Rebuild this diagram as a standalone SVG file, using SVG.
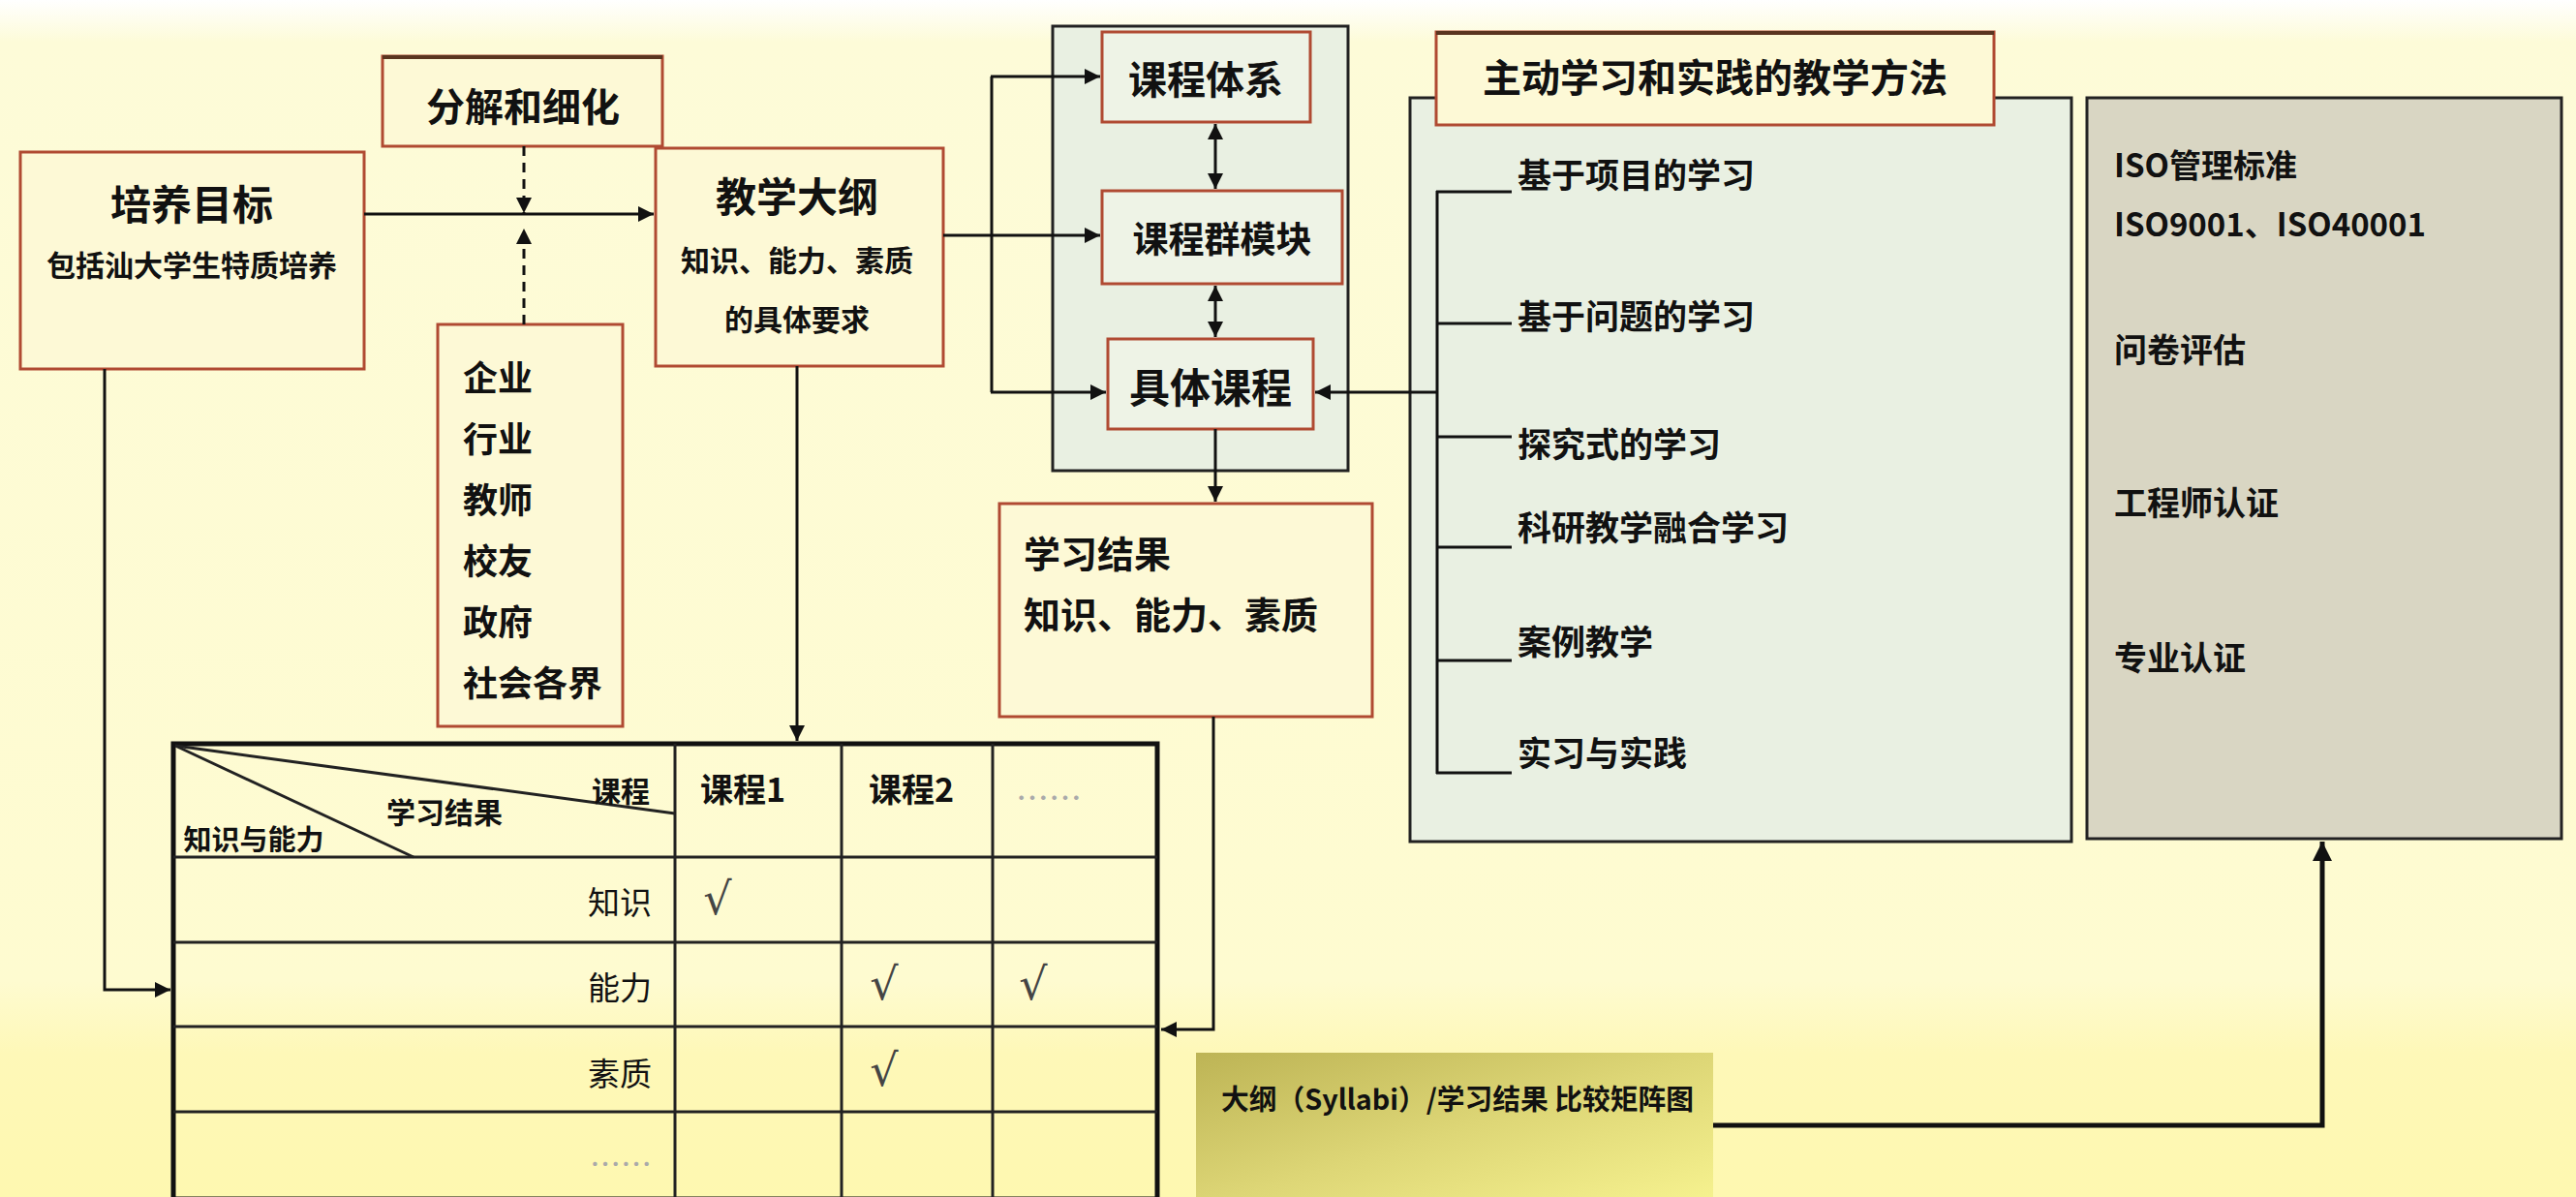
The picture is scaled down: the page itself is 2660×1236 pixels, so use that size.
<svg xmlns="http://www.w3.org/2000/svg" width="2660" height="1236" viewBox="0 0 2660 1236">
<defs>
<linearGradient id="bg" x1="0" y1="0" x2="0" y2="1">
<stop offset="0" stop-color="#ffffff"/>
<stop offset="0.035" stop-color="#fdfbd8"/>
<stop offset="0.82" stop-color="#fefbd0"/>
<stop offset="0.88" stop-color="#fef8b8"/>
<stop offset="1" stop-color="#fef8b0"/>
</linearGradient>
<linearGradient id="syl" x1="0" y1="0" x2="1" y2="1">
<stop offset="0" stop-color="#bdb455"/>
<stop offset="0.5" stop-color="#ddd676"/>
<stop offset="1" stop-color="#f7f390"/>
</linearGradient>
<marker id="ah" viewBox="0 0 10 10" refX="10" refY="5" markerWidth="18" markerHeight="16" markerUnits="userSpaceOnUse" orient="auto-start-reverse">
<path d="M0,0 L10,5 L0,10 z" fill="#111"/>
</marker>
<marker id="ahb" viewBox="0 0 10 10" refX="10" refY="5" markerWidth="22" markerHeight="20" markerUnits="userSpaceOnUse" orient="auto-start-reverse">
<path d="M0,0 L10,5 L0,10 z" fill="#111"/>
</marker>
</defs>
<style>
text{font-family:'Noto Sans CJK SC','Noto Sans',sans-serif;fill:#111;dominant-baseline:central}
.b{font-weight:bold}
.box{fill:#fdf9d6;stroke:#b04a32;stroke-width:3}
.gbox{fill:#eef3e6;stroke:#b04a32;stroke-width:3}
.c{text-anchor:middle}
.e{text-anchor:end}
.ln{fill:none;stroke:#111;stroke-width:3}
.tl{fill:none;stroke:#222;stroke-width:3}
.dots{fill:#aaa;font-weight:normal}
.chk{font-family:'DejaVu Sans',sans-serif;fill:#444;font-size:46px;font-weight:normal}
</style>
<rect x="0" y="0" width="2660" height="1236" fill="url(#bg)"/>

<g id="panel-course">
<rect x="1087" y="27" width="305" height="459" fill="#e9f0e2" stroke="#222" stroke-width="3"/>
</g>
<g id="panel-methods">
<rect x="1456" y="101" width="683" height="768" fill="#e9f0e2" stroke="#222" stroke-width="3"/>
</g>
<g id="panel-iso">
<rect x="2155" y="101" width="490" height="765" fill="#d9d6c3" stroke="#222" stroke-width="3"/>
<text class="b" x="2183" y="169" font-size="33">ISO管理标准</text>
<text class="b" x="2183" y="230" font-size="33">ISO9001、ISO40001</text>
<text class="b" x="2183" y="359" font-size="34">问卷评估</text>
<text class="b" x="2183" y="517" font-size="34">工程师认证</text>
<text class="b" x="2183" y="677" font-size="34">专业认证</text>
</g>

<g id="node-fenjie">
<rect class="box" x="395" y="58" width="289" height="93"/>
<line x1="395" y1="59" x2="684" y2="59" stroke="#5a3520" stroke-width="4"/>
<text class="b c" x="540" y="108" font-size="40">分解和细化</text>
</g>
<g id="node-peiyang">
<rect class="box" x="21" y="157" width="355" height="224"/>
<text class="b c" x="198" y="208" font-size="42">培养目标</text>
<text class="b c" x="198" y="272" font-size="30">包括汕大学生特质培养</text>
</g>
<g id="node-dagang">
<rect class="box" x="677" y="153" width="297" height="225"/>
<text class="b c" x="823" y="200" font-size="42">教学大纲</text>
<text class="b c" x="823" y="267" font-size="30">知识、能力、素质</text>
<text class="b c" x="823" y="328" font-size="30">的具体要求</text>
</g>
<g id="node-stakeholders">
<rect class="box" x="452" y="335" width="191" height="415"/>
<text class="b" x="478" y="388" font-size="36">企业</text>
<text class="b" x="478" y="451" font-size="36">行业</text>
<text class="b" x="478" y="514" font-size="36">教师</text>
<text class="b" x="478" y="577" font-size="36">校友</text>
<text class="b" x="478" y="640" font-size="36">政府</text>
<text class="b" x="478" y="703" font-size="36">社会各界</text>
</g>
<g id="node-kechengtixi">
<rect class="gbox" x="1138" y="33" width="215" height="93"/>
<text class="b c" x="1245" y="80" font-size="40">课程体系</text>
</g>
<g id="node-kechengqun">
<rect class="gbox" x="1138" y="197" width="248" height="96"/>
<text class="b c" x="1262" y="245" font-size="37">课程群模块</text>
</g>
<g id="node-jutikecheng">
<rect class="gbox" x="1144" y="350" width="212" height="93"/>
<text class="b c" x="1250" y="397" font-size="42">具体课程</text>
</g>
<g id="node-xuexijieguo">
<rect class="box" x="1032" y="520" width="385" height="220"/>
<text class="b" x="1057" y="569" font-size="38">学习结果</text>
<text class="b" x="1057" y="632" font-size="38">知识、能力、素质</text>
</g>
<g id="node-methods-title">
<rect class="box" x="1483" y="33" width="576" height="96"/>
<line x1="1483" y1="34" x2="2059" y2="34" stroke="#5a3520" stroke-width="4"/>
<text class="b c" x="1771" y="78" font-size="40">主动学习和实践的教学方法</text>
</g>
<g id="node-methods">
<text class="b" x="1567" y="178" font-size="35">基于项目的学习</text>
<text class="b" x="1567" y="324" font-size="35">基于问题的学习</text>
<text class="b" x="1567" y="456" font-size="35">探究式的学习</text>
<text class="b" x="1567" y="542" font-size="35">科研教学融合学习</text>
<text class="b" x="1567" y="660" font-size="35">案例教学</text>
<text class="b" x="1567" y="775" font-size="35">实习与实践</text>
</g>
<g id="node-syllabi">
<rect x="1235" y="1087" width="534" height="160" fill="url(#syl)"/>
<text class="b" x="1261" y="1133" font-size="29" textLength="488" lengthAdjust="spacingAndGlyphs">大纲（Syllabi）/学习结果 比较矩阵图</text>
</g>

<g id="node-matrix">
<rect x="179" y="768" width="1016" height="470" fill="none" stroke="#111" stroke-width="5"/>
<line class="tl" x1="179" y1="885" x2="1195" y2="885"/>
<line class="tl" x1="179" y1="973" x2="1195" y2="973"/>
<line class="tl" x1="179" y1="1060" x2="1195" y2="1060"/>
<line class="tl" x1="179" y1="1148" x2="1195" y2="1148"/>
<line class="tl" x1="697" y1="768" x2="697" y2="1236"/>
<line class="tl" x1="869" y1="768" x2="869" y2="1236"/>
<line class="tl" x1="1025" y1="768" x2="1025" y2="1236"/>
<line class="tl" x1="181" y1="770" x2="697" y2="840"/>
<line class="tl" x1="181" y1="770" x2="427" y2="885"/>
<text class="b c" x="641" y="815" font-size="30">课程</text>
<text class="b c" x="459" y="837" font-size="30">学习结果</text>
<text class="b c" x="262" y="865" font-size="29">知识与能力</text>
<text class="b c" x="767" y="813" font-size="34">课程1</text>
<text class="b c" x="941" y="813" font-size="34">课程2</text>
<text class="c dots" x="1083" y="822" font-size="34">……</text>
<text class="e" x="673" y="930" font-size="33">知识</text>
<text class="e" x="673" y="1018" font-size="33">能力</text>
<text class="e" x="673" y="1107" font-size="33">素质</text>
<text class="e dots" x="673" y="1200" font-size="32">……</text>
<text class="chk c" x="741" y="928">√</text>
<text class="chk c" x="913" y="1016">√</text>
<text class="chk c" x="1067" y="1016">√</text>
<text class="chk c" x="913" y="1105">√</text>
</g>

<g id="connectors">
<line class="ln" x1="376" y1="221" x2="675" y2="221" marker-end="url(#ah)"/>
<line class="ln" x1="541" y1="151" x2="541" y2="220" stroke-dasharray="10,7" marker-end="url(#ah)"/>
<line class="ln" x1="541" y1="335" x2="541" y2="236" stroke-dasharray="10,7" marker-end="url(#ah)"/>
<path class="ln" d="M108,381 V1022 H176" marker-end="url(#ah)"/>
<line class="ln" x1="823" y1="378" x2="823" y2="765" marker-end="url(#ah)"/>
<line class="ln" x1="974" y1="243" x2="1136" y2="243" marker-end="url(#ah)"/>
<line class="ln" x1="1024" y1="79" x2="1024" y2="405"/>
<line class="ln" x1="1023" y1="79" x2="1136" y2="79" marker-end="url(#ah)"/>
<line class="ln" x1="1023" y1="405" x2="1142" y2="405" marker-end="url(#ah)"/>
<line class="ln" x1="1255" y1="128" x2="1255" y2="195" marker-start="url(#ah)" marker-end="url(#ah)"/>
<line class="ln" x1="1255" y1="295" x2="1255" y2="348" marker-start="url(#ah)" marker-end="url(#ah)"/>
<line class="ln" x1="1255" y1="443" x2="1255" y2="518" marker-end="url(#ah)"/>
<line class="ln" x1="1484" y1="405" x2="1358" y2="405" marker-end="url(#ah)"/>
<line class="ln" x1="1484" y1="197" x2="1484" y2="799"/>
<line class="ln" x1="1483" y1="198" x2="1561" y2="198"/>
<line class="ln" x1="1483" y1="334" x2="1561" y2="334"/>
<line class="ln" x1="1483" y1="451" x2="1561" y2="451"/>
<line class="ln" x1="1483" y1="565" x2="1561" y2="565"/>
<line class="ln" x1="1483" y1="682" x2="1561" y2="682"/>
<line class="ln" x1="1483" y1="798" x2="1561" y2="798"/>
<path class="ln" d="M1253,740 V1063 H1199" marker-end="url(#ah)"/>
<path d="M1769,1162 H2398 V869" fill="none" stroke="#111" stroke-width="5" marker-end="url(#ahb)"/>
</g>
</svg>
